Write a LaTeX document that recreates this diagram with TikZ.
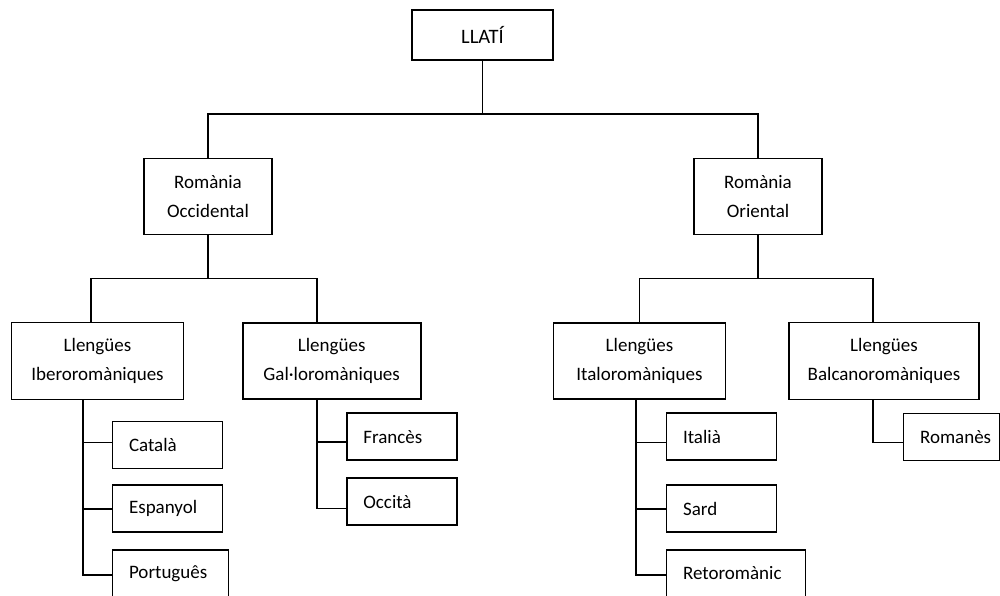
\documentclass[tikz,border=0pt]{standalone}
\usepackage{fontspec}
\setmainfont{Carlito}
\begin{document}
\begin{tikzpicture}[x=1pt,y=-1pt,
  every node/.style={font=\fontsize{19}{29}\selectfont},
  box/.style={draw, line width=1.7pt, inner sep=0pt, align=center},
  leaf/.style={draw, line width=1.7pt, anchor=north west, minimum height=47pt, inner xsep=0pt, align=left},
  link/.style={line width=1.7pt}]
\useasboundingbox (0,0) rectangle (1000,595);
% upper levels
\node[box, minimum width=141, minimum height=50, font=\fontsize{20.5}{29}\selectfont] (llati) at (482.5,35) {LLATÍ};
\node[box, minimum width=128, minimum height=76] (occ) at (208,196.5) {Romània\\Occidental};
\node[box, minimum width=128, minimum height=76] (ori) at (758,196.5) {Romània\\Oriental};
\node[box, minimum width=172, minimum height=77] (ibe) at (97.5,361) {Llengües\\Iberoromàniques};
\node[box, minimum width=178, minimum height=76] (gal) at (331.7,361.3) {Llengües\\Gal·loromàniques};
\node[box, minimum width=172, minimum height=76] (ita) at (639.5,361.3) {Llengües\\Italoromàniques};
\node[box, minimum width=190, minimum height=77] (bal) at (884,361) {Llengües\\Balcanoromàniques};
% leaves
\node[leaf, text width=110] (cat) at (111.7,420.7) {\hspace*{16.5pt}Català};
\node[leaf, text width=110] (esp) at (111.7,484.3) {\hspace*{16.5pt}Espanyol};
\node[leaf, text width=116] (por) at (111.7,549) {\hspace*{16.5pt}Português};
\node[leaf, text width=110] (fra) at (346,412.3) {\hspace*{16.5pt}Francès};
\node[leaf, text width=110] (occi) at (346,477.3) {\hspace*{16.5pt}Occità};
\node[leaf, text width=110] (ital) at (665.7,412.3) {\hspace*{16.5pt}Italià};
\node[leaf, text width=110] (sard) at (665.7,484.3) {\hspace*{16.5pt}Sard};
\node[leaf, text width=139] (ret) at (665.7,549) {\hspace*{16.5pt}Retoromànic};
\node[leaf, text width=96] (rom) at (902.7,412.7) {\hspace*{16.5pt}Romanès};
% connectors
\coordinate (jtop) at (482.5,114);
\draw[link] (llati.south) -- (jtop);
\draw[link] (occ.north) |- (jtop) -| (ori.north);
\coordinate (jocc) at (208,278.5);
\draw[link] (occ.south) -- (jocc);
\draw[link] ([xshift=-6.8]ibe.north) |- (jocc) -| ([xshift=-14.4]gal.north);
\coordinate (jori) at (758,278.5);
\draw[link] (ori.south) -- (jori);
\draw[link] (ita.north) |- (jori) -| ([xshift=-11.3]bal.north);
% iberoromance
\draw[link] ([xshift=-14.8]ibe.south) |- ([yshift=-1.5]por.west);
\draw[link] ([yshift=2.5]cat.west) -| ([xshift=-14.8]ibe.south);
\draw[link] (esp.west) -| ([xshift=-14.8]ibe.south);
% gallo-romance
\draw[link] ([xshift=-15]gal.south) |- ([yshift=-6.9]occi.west);
\draw[link] ([yshift=-5.5]fra.west) -| ([xshift=-15]gal.south);
% italo-romance
\draw[link] ([xshift=-3.5]ita.south) |- ([yshift=-1.5]ret.west);
\draw[link] ([yshift=-5.9]ital.west) -| ([xshift=-3.5]ita.south);
\draw[link] (sard.west) -| ([xshift=-3.5]ita.south);
% balkan
\draw[link] ([xshift=-10.7]bal.south) |- ([yshift=-5.5]rom.west);
\end{tikzpicture}
\end{document}
